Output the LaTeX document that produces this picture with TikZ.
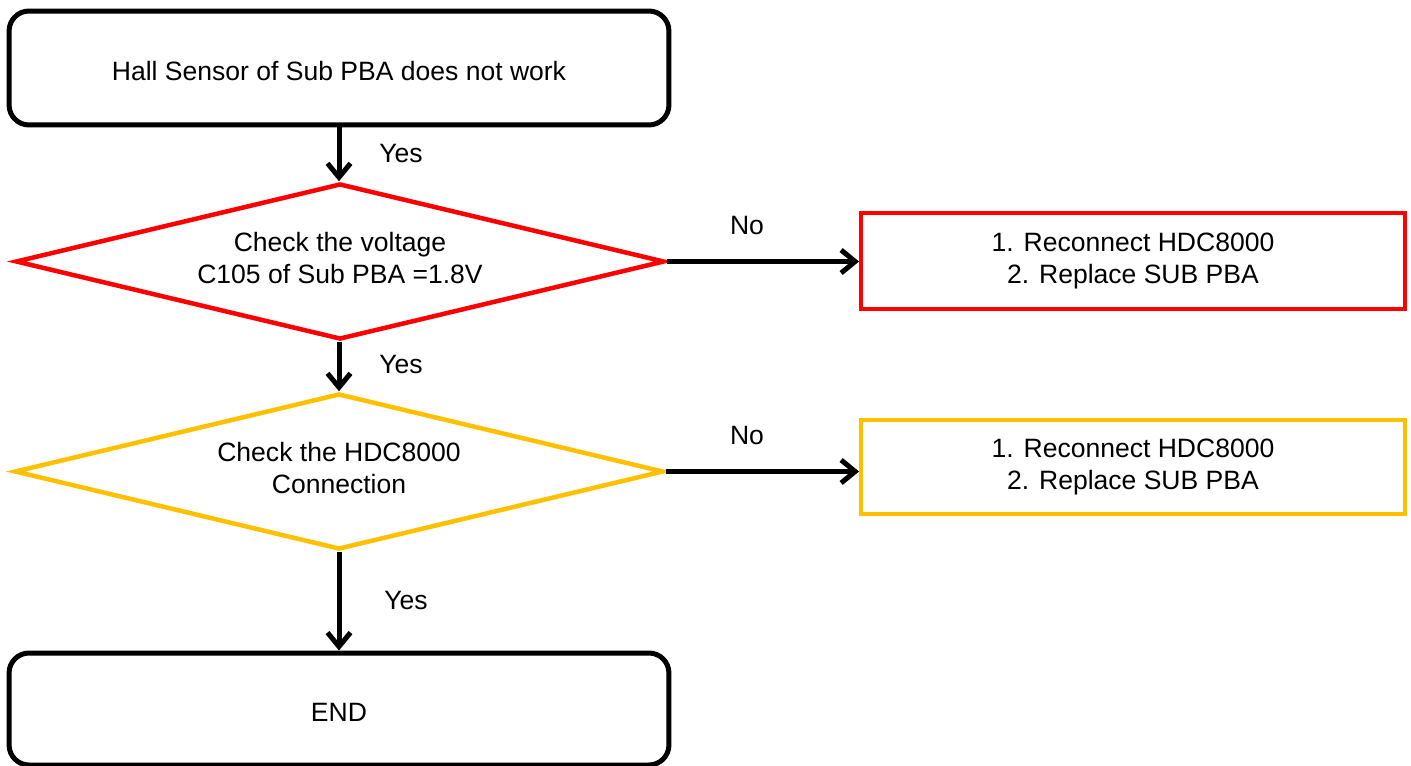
\documentclass[tikz,border=0pt]{standalone}
\usepackage{fontspec}
\setmainfont{Liberation Sans}
\usetikzlibrary{shapes.geometric,arrows.meta}
\definecolor{alarmred}{RGB}{255,0,0}
\definecolor{warngold}{RGB}{255,192,0}

\begin{document}
\begin{tikzpicture}[x=0.02cm, y=-0.02cm,
  every node/.style={font=\fontsize{15.1}{18.2}\selectfont, align=center},
  roundbox/.style={rectangle, rounded corners=0.4cm, draw=black, line width=0.1cm, minimum width=13.2cm, minimum height=2.28cm, text height=17.4pt, text depth=3.2pt},
  checknode/.style={diamond, aspect=4.2, inner sep=0pt, line width=0.09cm, minimum width=12.98cm, minimum height=3.12cm, text depth=4.5pt},
  fixbox/.style={rectangle, line width=0.08cm, minimum width=10.88cm, minimum height=1.92cm},
  flow/.style={line width=0.1cm, -{Straight Barb[length=0.28cm, width=0.46cm]}},
  answer/.style={inner sep=0pt}]
\useasboundingbox (0,0) rectangle (1411,765);
\node[roundbox] (Start) at (339,68) {Hall Sensor of Sub PBA does not work};
\node[checknode, draw=alarmred] (ChkVolt) at (340,261.5) {Check the voltage\\C105 of Sub PBA =1.8V};
\node[fixbox, draw=alarmred] (FixA) at (1133,261) {1. Reconnect HDC8000\\2. Replace SUB PBA};
\node[checknode, draw=warngold] (ChkConn) at (339,471.5) {Check the HDC8000\\Connection};
\node[fixbox, draw=warngold, minimum height=1.90cm] (FixB) at (1133,467) {1. Reconnect HDC8000\\2. Replace SUB PBA};
\node[roundbox, minimum height=2.24cm] (Stop) at (339,709) {END};
\node[answer] (YesA) at (401,153) {Yes};
\node[answer] (NoA) at (747,225) {No};
\node[answer] (YesB) at (401,364) {Yes};
\node[answer] (NoB) at (747,435) {No};
\node[answer] (YesC) at (406,600) {Yes};
\draw[flow] (Start) -- (Start |- ChkVolt.north);
\draw[flow] (ChkVolt.east) -- (ChkVolt.east -| FixA.west);
\draw[flow] (Start |- ChkVolt.south) -- (Start |- ChkConn.north);
\draw[flow] (ChkConn.east) -- (ChkConn.east -| FixB.west);
\draw[flow] (ChkConn) -- (ChkConn |- Stop.north);
\end{tikzpicture}
\end{document}
